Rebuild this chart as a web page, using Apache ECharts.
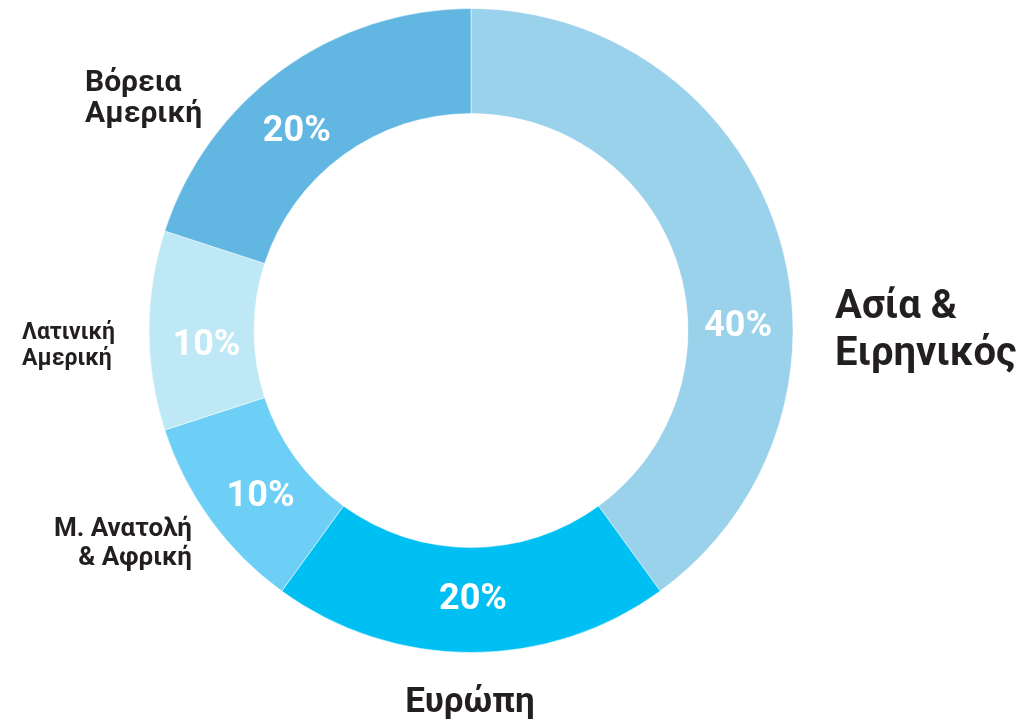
<!DOCTYPE html>
<html>
<head>
<meta charset="utf-8">
<script src="https://cdn.jsdelivr.net/npm/echarts@6/dist/echarts.min.js"></script>
<style>
  html, body { margin: 0; padding: 0; background: #fff; }
  #chart { width: 1023px; height: 724px; }
</style>
</head>
<body>
<div id="chart"></div>
<script>
  // regions, clockwise from 12 o'clock
  var regions = ['Ασία &\nΕιρηνικός', 'Ευρώπη', 'Μ. Ανατολή\n& Αφρική', 'Λατινική\nΑμερική', 'Βόρεια\nΑμερική'];
  var shares = [40, 20, 10, 10, 20];

  var colors = ['#9bd2eb', '#00c0f3', '#6dcff5', '#bee8f5', '#62b7e2'];
  // outer name label look + where it sits
  var nameFont = [40, 35, 26, 23, 30];
  var nameLine = [47, 40, 29, 26, 31];
  var namePos = [
    { x: 835, y: 331, align: 'left' },
    { x: 470, y: 703, align: 'center' },
    { x: 192, y: 544, align: 'right' },
    { x: 22, y: 346, align: 'left' },
    { x: 85, y: 99, align: 'left' }
  ];

  var font = 'Roboto, "DejaVu Sans", sans-serif';

  var ringData = regions.map(function (n, i) {
    return { name: n, value: shares[i], itemStyle: { color: colors[i] } };
  });
  var nameData = regions.map(function (n, i) {
    return {
      name: n, value: shares[i],
      label: { fontSize: nameFont[i], lineHeight: nameLine[i] }
    };
  });

  var myChart = echarts.init(document.getElementById('chart'));
  myChart.setOption({
    animation: false,
    series: [
      {
        type: 'pie',
        center: [471, 330.5],
        radius: [217, 322],
        startAngle: 90,
        silent: true,
        itemStyle: { borderColor: 'rgba(255,255,255,0.5)', borderWidth: 1 },
        label: {
          show: true,
          position: 'inside',
          formatter: '{c}%',
          color: '#fff',
          fontFamily: font,
          fontWeight: 'bold',
          fontSize: 36
        },
        labelLine: { show: false },
        // the 40% sits lower than its slice middle
        labelLayout: function (p) {
          if (p.dataIndex === 0) return { dx: 8, dy: 81 };
          if (p.dataIndex === 1) return { dx: 2, dy: -3 };
          if (p.dataIndex === 4) return { dx: -14, dy: 22 };
          if (p.dataIndex === 3) return { dx: 8, dy: 15 };
          if (p.dataIndex === 2) return { dx: 10, dy: 6 };
          return {};
        },
        data: ringData
      },
      {
        type: 'pie',
        center: [471, 330.5],
        radius: [217, 322],
        startAngle: 90,
        silent: true,
        z: 1,
        itemStyle: { color: 'rgba(0,0,0,0)' },
        label: {
          show: true,
          position: 'outside',
          formatter: '{b}',
          color: '#231f20',
          fontFamily: font,
          fontWeight: 'bold',
          overflow: 'none',
          width: 300
        },
        labelLine: { show: false },
        labelLayout: function (p) {
          var pos = namePos[p.dataIndex];
          return { x: pos.x, y: pos.y, align: pos.align, verticalAlign: 'middle' };
        },
        data: nameData
      }
    ]
  });
  window.onresize = function () {
    myChart.resize();
  };
</script>
</body>
</html>
